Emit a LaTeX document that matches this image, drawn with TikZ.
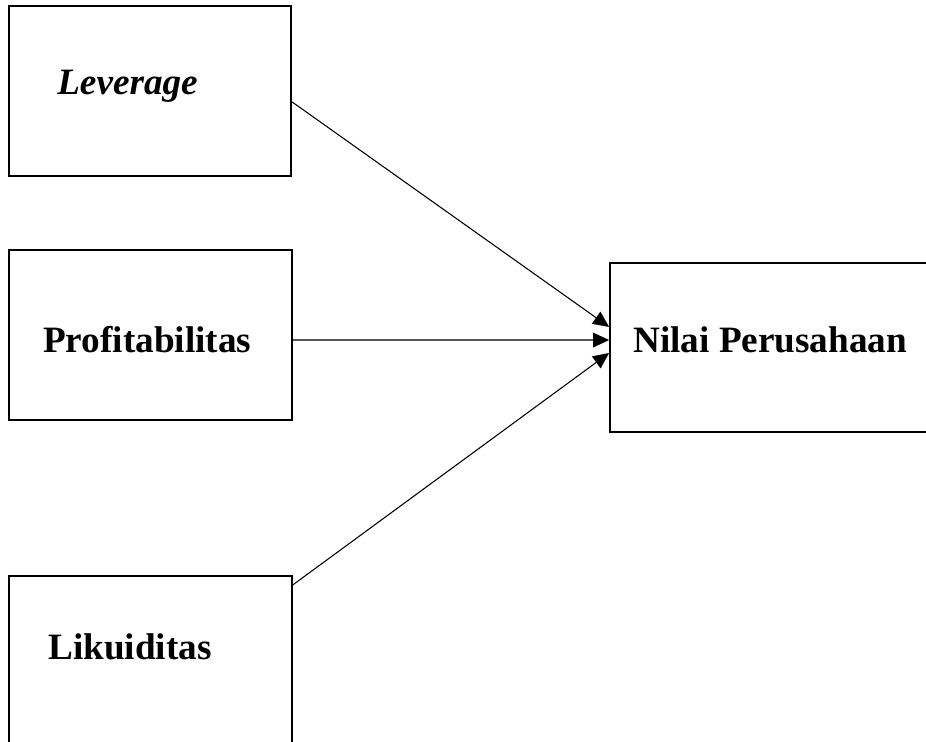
\documentclass[tikz,border=0pt]{standalone}
\usepackage{fontspec}
\setmainfont{Liberation Serif}
\usetikzlibrary{arrows.meta}
\begin{document}
\begin{tikzpicture}[x=0.75pt,y=-0.75pt,
  box/.style={draw,line width=1.3pt,minimum width=212pt,minimum height=127pt,inner sep=0pt},
  lbl/.style={anchor=base west,inner sep=0pt,font=\fontsize{27.9}{32}\selectfont\bfseries},
  arr/.style={-{Triangle[length=12pt,width=11pt]},line width=0.8pt}]
\useasboundingbox (0,0) rectangle (926,742);
\begin{scope}
\clip (0,0) rectangle (926,742);
\node[box](lev) at (150,91){};
\node[box](prof) at (150.5,335){};
\node[box,minimum height=128pt](lik) at (150.5,661){};
\node[box,minimum width=240pt](nilai) at (770,347.5){};
\end{scope}
\node[lbl](levtxt) at (57,95){\itshape Leverage};
\node[lbl](proftxt) at (43,352){Profitabilitas};
\node[lbl](liktxt) at (48,659){Likuiditas};
\node[lbl](nilaitxt) at (633,352){Nilai Perusahaan};
\draw[arr]([yshift=-8.25pt]lev.east) -- ([yshift=15.4pt]nilai.west);
\draw[arr]([yshift=-3.75pt]prof.east) -- ([yshift=5.6pt]nilai.west);
\draw[arr]([yshift=57pt]lik.east) -- ([yshift=-4.1pt]nilai.west);
\end{tikzpicture}
\end{document}
